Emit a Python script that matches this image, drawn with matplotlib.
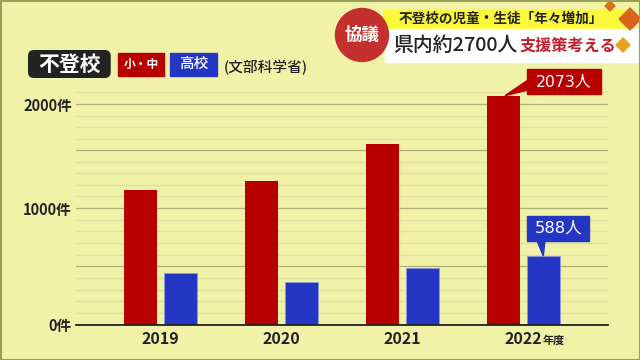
import matplotlib
matplotlib.use("Agg")
import matplotlib.pyplot as plt
from matplotlib.patches import FancyBboxPatch, Rectangle, Circle, Polygon
from matplotlib.ticker import NullLocator
import numpy as np

JP = ['Noto Sans CJK JP', 'DejaVu Sans']
WIDE = ['DejaVu Sans', 'Noto Sans CJK JP']
plt.rcParams['font.family'] = JP

years = ['2019', '2020', '2021', '2022']
elem_mid = [1173, 1260, 1615, 2073]
high = [440, 362, 482, 588]
yticks = [0, 1000, 2000]
ytick_labels = ['0件', '1000件', '2000件']
major_lines = [500, 1000, 1556, 2000]
minor_lines = [100, 200, 300, 400, 600, 700, 800, 900, 1111, 1222, 1333, 1444,
               1667, 1778, 1889, 2111]

BG = '#f0f2a8'
RED = '#b80000'
BLUE = '#2436c4'
DARK = '#222222'

fig = plt.figure(figsize=(6.4, 3.6), dpi=100, facecolor=BG)

ov = fig.add_axes([0, 0, 1, 1], zorder=3)
ov.set_xlim(0, 640); ov.set_ylim(360, 0); ov.axis('off'); ov.patch.set_alpha(0)

L, R, T, B = 76, 608, 60, 324.5
ax = fig.add_axes([L/640, 1-B/360, (R-L)/640, (B-T)/360], zorder=1)
ax.patch.set_alpha(0)

# the reference's value axis is not quite uniform between its labelled ticks
val_pts = [0, 1000, 2000, 3000]
px_pts = [0, 116.5, 220.5, 324.5]
ax.set_yscale('function', functions=(lambda v: np.interp(v, val_pts, px_pts),
                                     lambda p: np.interp(p, px_pts, val_pts)))

x = np.arange(len(years))
w = 0.27
ax.bar(x-0.165, elem_mid, w, color=RED, zorder=3)
ax.bar(x+0.165, high, w, color=BLUE, edgecolor='#8f9be0', linewidth=0.5, zorder=3)
ax.set_xlim(-0.70, 3.696)
ax.set_ylim(0, np.interp(B-T, px_pts, val_pts))
for s in ['top', 'right', 'left']:
    ax.spines[s].set_visible(False)
ax.spines['bottom'].set_color(DARK); ax.spines['bottom'].set_linewidth(1.3)
ax.spines['bottom'].set_zorder(4)
ax.set_yticks(yticks)
ax.set_yticklabels(ytick_labels, fontsize=10.5, color=DARK, fontweight='bold')
ax.yaxis.set_minor_locator(NullLocator())
ax.set_xticks(x)
ax.set_xticklabels(years, fontsize=11.5, color=DARK, fontweight='bold')
ax.tick_params(length=0)
ax.tick_params(axis='x', pad=5)
ax.tick_params(axis='y', pad=3)
for v in minor_lines:
    ax.axhline(v, color='#dfe09e', lw=1, zorder=1)
for v in major_lines:
    ax.axhline(v, color='#b0b278', lw=0.9, zorder=2)

ov.text(543, 340.5, '年度', fontsize=8, color=DARK, va='center', ha='left', fontweight='bold')

# callouts
ov.add_patch(Polygon([[505, 95.7], [528, 80], [528, 90]], color=RED))
ov.add_patch(Rectangle((526.7, 69.3), 74, 25, color=RED))
ov.text(563.7, 81.5, f'{elem_mid[3]}人', color='white', fontsize=11.3, ha='center', va='center', family=WIDE)
ov.add_patch(Polygon([[543.3, 256], [536.7, 240], [545, 240]], color=BLUE))
ov.add_patch(Rectangle((527.3, 215.7), 62, 25, color=BLUE))
ov.text(558.3, 228, f'{high[3]}人', color='white', fontsize=11.8, ha='center', va='center', family=WIDE)

# heading and legend
ov.add_patch(FancyBboxPatch((28, 50), 82.7, 28, boxstyle='round,pad=0,rounding_size=6', fc=DARK, ec='none'))
ov.text(69.3, 64, '不登校', color='white', fontsize=15, ha='center', va='center', fontweight='bold')
ov.add_patch(Rectangle((118, 52.7), 46, 23.3, color=RED))
ov.text(141, 64, '小・中', color='white', fontsize=8.5, ha='center', va='center', fontweight='bold')
ov.add_patch(Rectangle((170, 52.7), 46.7, 23.3, color=BLUE))
ov.text(193.3, 64, '高校', color='white', fontsize=10.5, ha='center', va='center', fontweight='medium')
ov.text(224, 67.5, '(文部科学省)', color=DARK, fontsize=10.6, ha='left', va='center', fontweight='medium')

# banner
ov.add_patch(Rectangle((383, 9.5), 243, 19, color='#fbf93a'))
ov.text(501, 19, '不登校の児童・生徒「年々増加」', color=DARK, fontsize=9.8, ha='center', va='center', fontweight='bold')
ov.add_patch(Rectangle((385, 28.5), 255, 33.5, color='white'))
ov.text(393, 45.5, '県内約2700人', color=DARK, fontsize=14.3, ha='left', va='center', fontweight='medium')
ov.text(520, 45.5, '支援策考える', color='#c21f2e', fontsize=11.6, ha='left', va='center', fontweight='bold')
ov.add_patch(Circle((362, 35), 26.5, color='#c4302e'))
ov.text(362, 35, '協議', color='white', fontsize=12.6, ha='center', va='center', fontweight='bold')
for cx, cy, r, c in [(630, 19, 11, '#d9641e'), (623, 45, 7, '#e8a020'), (610, 6, 5, '#d9701e')]:
    ov.add_patch(Polygon([[cx-r, cy], [cx, cy-r], [cx+r, cy], [cx, cy+r]], color=c))

# frame
ov.add_patch(Rectangle((0.5, 0.5), 639, 359, fill=False, ec='#9aa05a', lw=1.5))

fig.savefig('out.png', dpi=100, facecolor=BG)
